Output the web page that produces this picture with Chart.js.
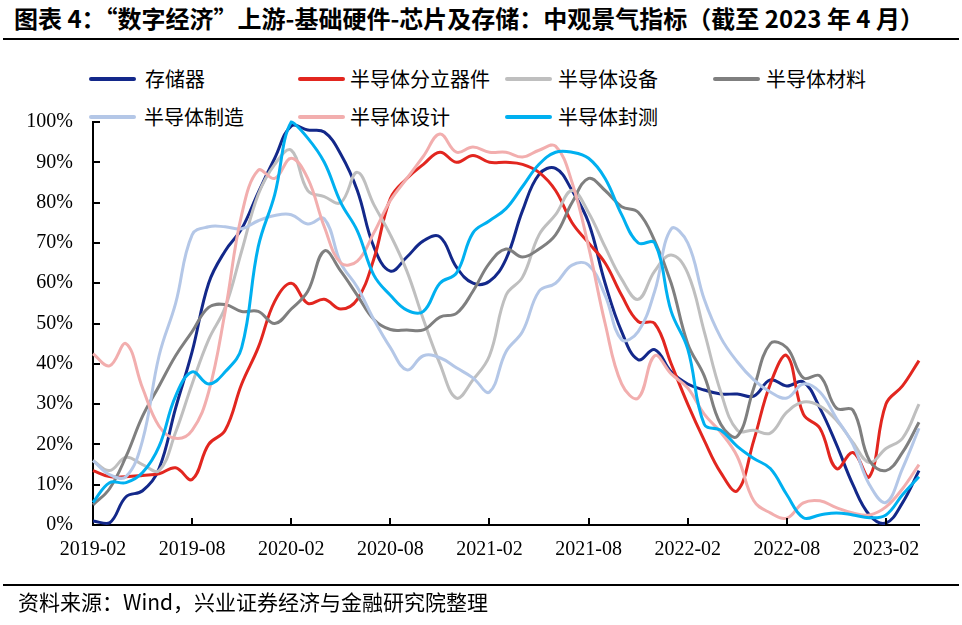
<!DOCTYPE html>
<html>
<head>
<meta charset="utf-8">
<script src="https://cdn.jsdelivr.net/npm/chart.js@4.4.0/dist/chart.umd.min.js"></script>
<style>
  body { margin: 0; width: 962px; height: 625px; background: #fff; position: relative; overflow: hidden;
         font-family: "Noto Sans CJK SC", sans-serif; color: #000; }
  #chart { position: absolute; left: 0; top: 0; }
  .title { position: absolute; left: 14px; top: 2px; font-size: 24px; font-weight: 700; line-height: 32px; white-space: nowrap; }
  .rule { position: absolute; left: 3px; width: 956px; height: 2px; background: #000; }
  .source { position: absolute; left: 18px; top: 588px; font-size: 21px; line-height: 26px; white-space: nowrap; }
  .lg-line { position: absolute; width: 47px; height: 4px; border-radius: 2px; }
  .lg-text { position: absolute; font-size: 20px; line-height: 24px; white-space: nowrap; }
</style>
</head>
<body>
<div class="title">图表 4：“数字经济”上游-基础硬件-芯片及存储：中观景气指标（截至 2023 年 4 月）</div>
<div class="rule" style="top:38px"></div>
<div id="legend"></div>
<canvas id="chart" width="962" height="625"></canvas>
<div class="rule" style="top:584px"></div>
<div class="source">资料来源：Wind，兴业证券经济与金融研究院整理</div>

<script>
// 月份（2019-02 至 2023-04）
const months = [
    '2019-02','2019-03','2019-04','2019-05','2019-06','2019-07','2019-08','2019-09','2019-10','2019-11','2019-12',
    '2020-01','2020-02','2020-03','2020-04','2020-05','2020-06','2020-07','2020-08','2020-09','2020-10','2020-11','2020-12',
    '2021-01','2021-02','2021-03','2021-04','2021-05','2021-06','2021-07','2021-08','2021-09','2021-10','2021-11','2021-12',
    '2022-01','2022-02','2022-03','2022-04','2022-05','2022-06','2022-07','2022-08','2022-09','2022-10','2022-11','2022-12',
    '2023-01','2023-02','2023-03','2023-04'
];
const tickLabels = ['2019-02','2019-08','2020-02','2020-08','2021-02','2021-08','2022-02','2022-08','2023-02'];

// 各行业景气指标 (%)
const storage = [1,0.5,7,8.5,14,29,43,60,68,73.5,82.5,91,99,98,97.5,92,83,69,63,66.5,70.5,71.5,64,60,60.5,66,78,87,88.5,83,75,60,48,41,43.5,38,35,33.5,32.5,32.5,32,36,34.5,35.5,29,20,10,2.5,0.5,5.5,13.5];
const discrete = [13.5,12,12,12.3,12.7,14.2,11.3,20,23.5,35,44,55.5,60,55,56,53.6,56,66,81,86,89.5,92.5,90,91.7,90,90,89.5,87.5,83,75,70,65,57,50.5,50,40,30,21,13,8.5,21,35,42,27.5,24,14,18,12,30,34.5,40.8];
const equipment = [16,13.5,16.8,15,13.5,23,35,46,54,68,82,89.5,93,83,81.5,80,87.5,79.5,72,63,51,40,31.5,36,42,57,61.5,72,77,83,77.5,69,61,56,63,67,62.5,48,33,23.5,23.5,22.8,28,30.5,29.5,26,20.5,15.5,19,21.5,30];
const materials = [5,9,17,27,34.5,42,48,54,54.7,53,53,50,53.6,58,68,63,57,51,48.5,48.4,48.4,51.6,52.5,58,65,68.5,66.5,68.5,72,80,86,83,79,77.6,70.5,60,45,37,25,22,34,45,44,36.5,37,29,28.5,16,13.5,18,25.5];
const manufacturing = [16,12.5,12,21,42,55,72,74,74,73.5,75.5,76.8,77,74.7,76,65,59,51,44,38.5,42,41.5,39,36.5,33,43,48,58,60,64.5,64.5,57,46,48,58,73.5,70,56,46.5,40.5,36,33,31.5,35,33,26.5,20,10,5.6,14,24];
const design = [42.5,39.5,45,34,24.5,21.5,23.5,33,53,77,88,86,91,86,74,65,65.5,72.5,80.5,86,91.5,97,92.5,93.8,92.5,92.5,91.3,93,94,85,69,50,35,31.5,42,37.5,34,27.5,23,17,6,3,1.7,5.5,6,4.3,3,2.5,4.5,9,15];
const packaging = [5.6,10.5,10.5,13,19.5,32,38,35,38,44,69,82,100,96,90,80,73,62,57,53.3,53,60,62.5,72.5,75.5,78.5,84,89.5,92.5,92.5,91,86,77,70,70,53,43.7,25,23.5,19.5,16.5,14,7.5,1.8,2.5,3,2.5,1.8,2.5,7.5,12];

// 图例与样式
const seriesList = [
    { name: '存储器', data: storage, color: '#13288a' },
    { name: '半导体分立器件', data: discrete, color: '#e2261f' },
    { name: '半导体设备', data: equipment, color: '#bfbfbf' },
    { name: '半导体材料', data: materials, color: '#7f7f7f' },
    { name: '半导体制造', data: manufacturing, color: '#b4c7e7' },
    { name: '半导体设计', data: design, color: '#f2aeae' },
    { name: '半导体封测', data: packaging, color: '#00b0f0' }
];
const legendPos = [
    { line: 89, text: 145, y: 79 },
    { line: 298, text: 350, y: 79 },
    { line: 505, text: 558, y: 79 },
    { line: 713, text: 766, y: 79 },
    { line: 89, text: 144, y: 117 },
    { line: 298, text: 350, y: 117 },
    { line: 505, text: 558, y: 117 }
];

// 图例
const legendBox = document.getElementById('legend');
seriesList.forEach((s, i) => {
    const p = legendPos[i];
    const line = document.createElement('div');
    line.className = 'lg-line';
    line.style.left = p.line + 'px';
    line.style.top = (p.y - 2) + 'px';
    line.style.background = s.color;
    legendBox.appendChild(line);
    const text = document.createElement('div');
    text.className = 'lg-text';
    text.style.left = p.text + 'px';
    text.style.top = (p.y - 12) + 'px';
    text.textContent = s.name;
    legendBox.appendChild(text);
});

// 向内的刻度线
const innerTicks = {
    id: 'innerTicks',
    afterDraw(chart) {
        const { ctx, scales: { x, y } } = chart;
        ctx.save();
        ctx.strokeStyle = '#000';
        ctx.lineWidth = 2;
        ctx.beginPath();
        x.ticks.forEach((t, i) => {
            if (!tickLabels.includes(months[i]) || i === 0) return;
            const px = Math.round(x.getPixelForTick(i));
            ctx.moveTo(px, y.bottom);
            ctx.lineTo(px, y.bottom - 7);
        });
        y.ticks.forEach((t, i) => {
            const py = Math.round(y.getPixelForTick(i));
            ctx.moveTo(x.left, py);
            ctx.lineTo(x.left + 7, py);
        });
        ctx.stroke();
        ctx.restore();
    }
};

Chart.defaults.font.family = '"Liberation Serif", serif';
Chart.defaults.color = '#000';

new Chart(document.getElementById('chart'), {
    type: 'line',
    data: {
        labels: months,
        datasets: seriesList.map((s, i) => ({
            label: s.name,
            data: s.data,
            borderColor: s.color,
            backgroundColor: s.color,
            borderWidth: 3,
            pointRadius: 0,
            tension: 0.4,
            fill: false,
            clip: false,
            order: seriesList.length - i
        }))
    },
    options: {
        responsive: false,
        animation: false,
        devicePixelRatio: 1,
        layout: { padding: { left: 0, right: 43, top: 122, bottom: 60 } },
        plugins: { legend: { display: false }, tooltip: { enabled: false } },
        scales: {
            x: {
                grid: { display: false, drawTicks: false },
                border: { display: true, color: '#000', width: 2 },
                ticks: {
                    autoSkip: false,
                    maxRotation: 0,
                    padding: 13,
                    font: { size: 20 },
                    callback: (v, i) => tickLabels.includes(months[i]) ? months[i] : ''
                },
                afterFit: (s) => { s.height = 40; }
            },
            y: {
                min: 0,
                max: 100,
                grid: { display: false, drawTicks: false },
                border: { display: true, color: '#000', width: 2 },
                ticks: {
                    stepSize: 10,
                    padding: 20,
                    font: { size: 20 },
                    callback: (v) => v + '%'
                },
                afterFit: (s) => { s.width = 93; }
            }
        }
    },
    plugins: [innerTicks]
});
</script>
</body>
</html>
